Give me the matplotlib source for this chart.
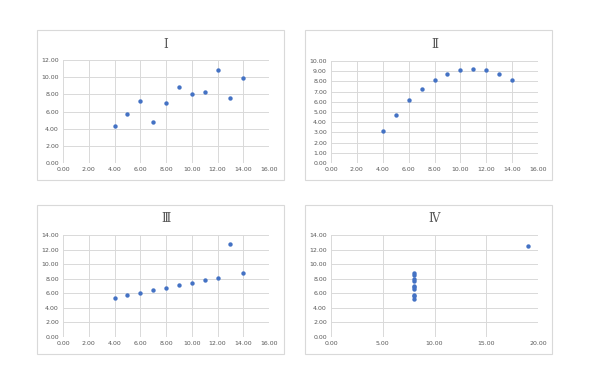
import matplotlib
matplotlib.use("Agg")
import matplotlib.pyplot as plt
import matplotlib.patches as mpatches
import numpy as np

# Anscombe's quartet
x_123 = [10, 8, 13, 9, 11, 14, 6, 4, 12, 7, 5]
y_1 = [8.04, 6.95, 7.58, 8.81, 8.33, 9.96, 7.24, 4.26, 10.84, 4.82, 5.68]
y_2 = [9.14, 8.14, 8.74, 8.77, 9.26, 8.10, 6.13, 3.10, 9.13, 7.26, 4.74]
y_3 = [7.46, 6.77, 12.74, 7.11, 7.81, 8.84, 6.08, 5.39, 8.15, 6.42, 5.73]
x_4 = [8, 8, 8, 8, 8, 8, 8, 19, 8, 8, 8]
y_4 = [6.58, 5.76, 7.71, 8.84, 8.47, 7.04, 5.25, 12.50, 5.56, 7.91, 6.89]

titles = ["Ⅰ", "Ⅱ", "Ⅲ", "Ⅳ"]
x_ticks = [np.arange(0, 17, 2), np.arange(0, 17, 2), np.arange(0, 17, 2), np.arange(0, 21, 5)]
y_ticks = [np.arange(0, 13, 2), np.arange(0, 11, 1), np.arange(0, 15, 2), np.arange(0, 15, 2)]
series = [(x_123, y_1), (x_123, y_2), (x_123, y_3), (x_4, y_4)]

W, H = 590, 384
BLUE = "#4472C4"
GRID = "#D9D9D9"
TXT = "#595959"

# (panel box, plot area) in pixels: left, top, right, bottom
boxes = [(37, 30, 284, 180), (305, 30, 552, 180), (37, 205, 284, 354), (305, 205, 552, 354)]
areas = [(63, 60, 269, 163), (331, 61, 538, 163), (63, 235, 269, 337), (331, 235, 538, 337)]

fig = plt.figure(figsize=(W / 100, H / 100), dpi=100, facecolor="white")


def frac(l, t, r, b):
    return [l / W, 1 - b / H, (r - l) / W, (b - t) / H]

for i in range(4):
    l, t, r, b = boxes[i]
    fig.patches.append(mpatches.Rectangle((l / W, 1 - b / H), (r - l) / W, (b - t) / H,
                                          transform=fig.transFigure, fill=False,
                                          edgecolor="#D9D9D9", lw=0.8))
    ax = fig.add_axes(frac(*areas[i]))
    xs, ys = series[i]
    ax.scatter(xs, ys, s=10, color=BLUE, zorder=3, linewidths=0)
    ax.set_xlim(x_ticks[i][0], x_ticks[i][-1])
    ax.set_ylim(y_ticks[i][0], y_ticks[i][-1])
    ax.set_xticks(x_ticks[i])
    ax.set_yticks(y_ticks[i])
    ax.set_xticklabels([f"{v:.2f}" for v in x_ticks[i]])
    ax.set_yticklabels([f"{v:.2f}" for v in y_ticks[i]])
    ax.grid(True, color=GRID, lw=0.7)
    ax.set_axisbelow(True)
    for s in ax.spines.values():
        s.set_visible(False)
    ax.tick_params(length=0, labelsize=4.5, colors=TXT, pad=3)
    cx = (areas[i][0] + areas[i][2]) / 2
    fig.text(cx / W, 1 - (t + 14) / H, titles[i], ha="center", va="center",
             fontsize=8.5, color=TXT, family=["DejaVu Serif", "DejaVu Sans"])

fig.savefig("out.png", dpi=100, facecolor="white")
